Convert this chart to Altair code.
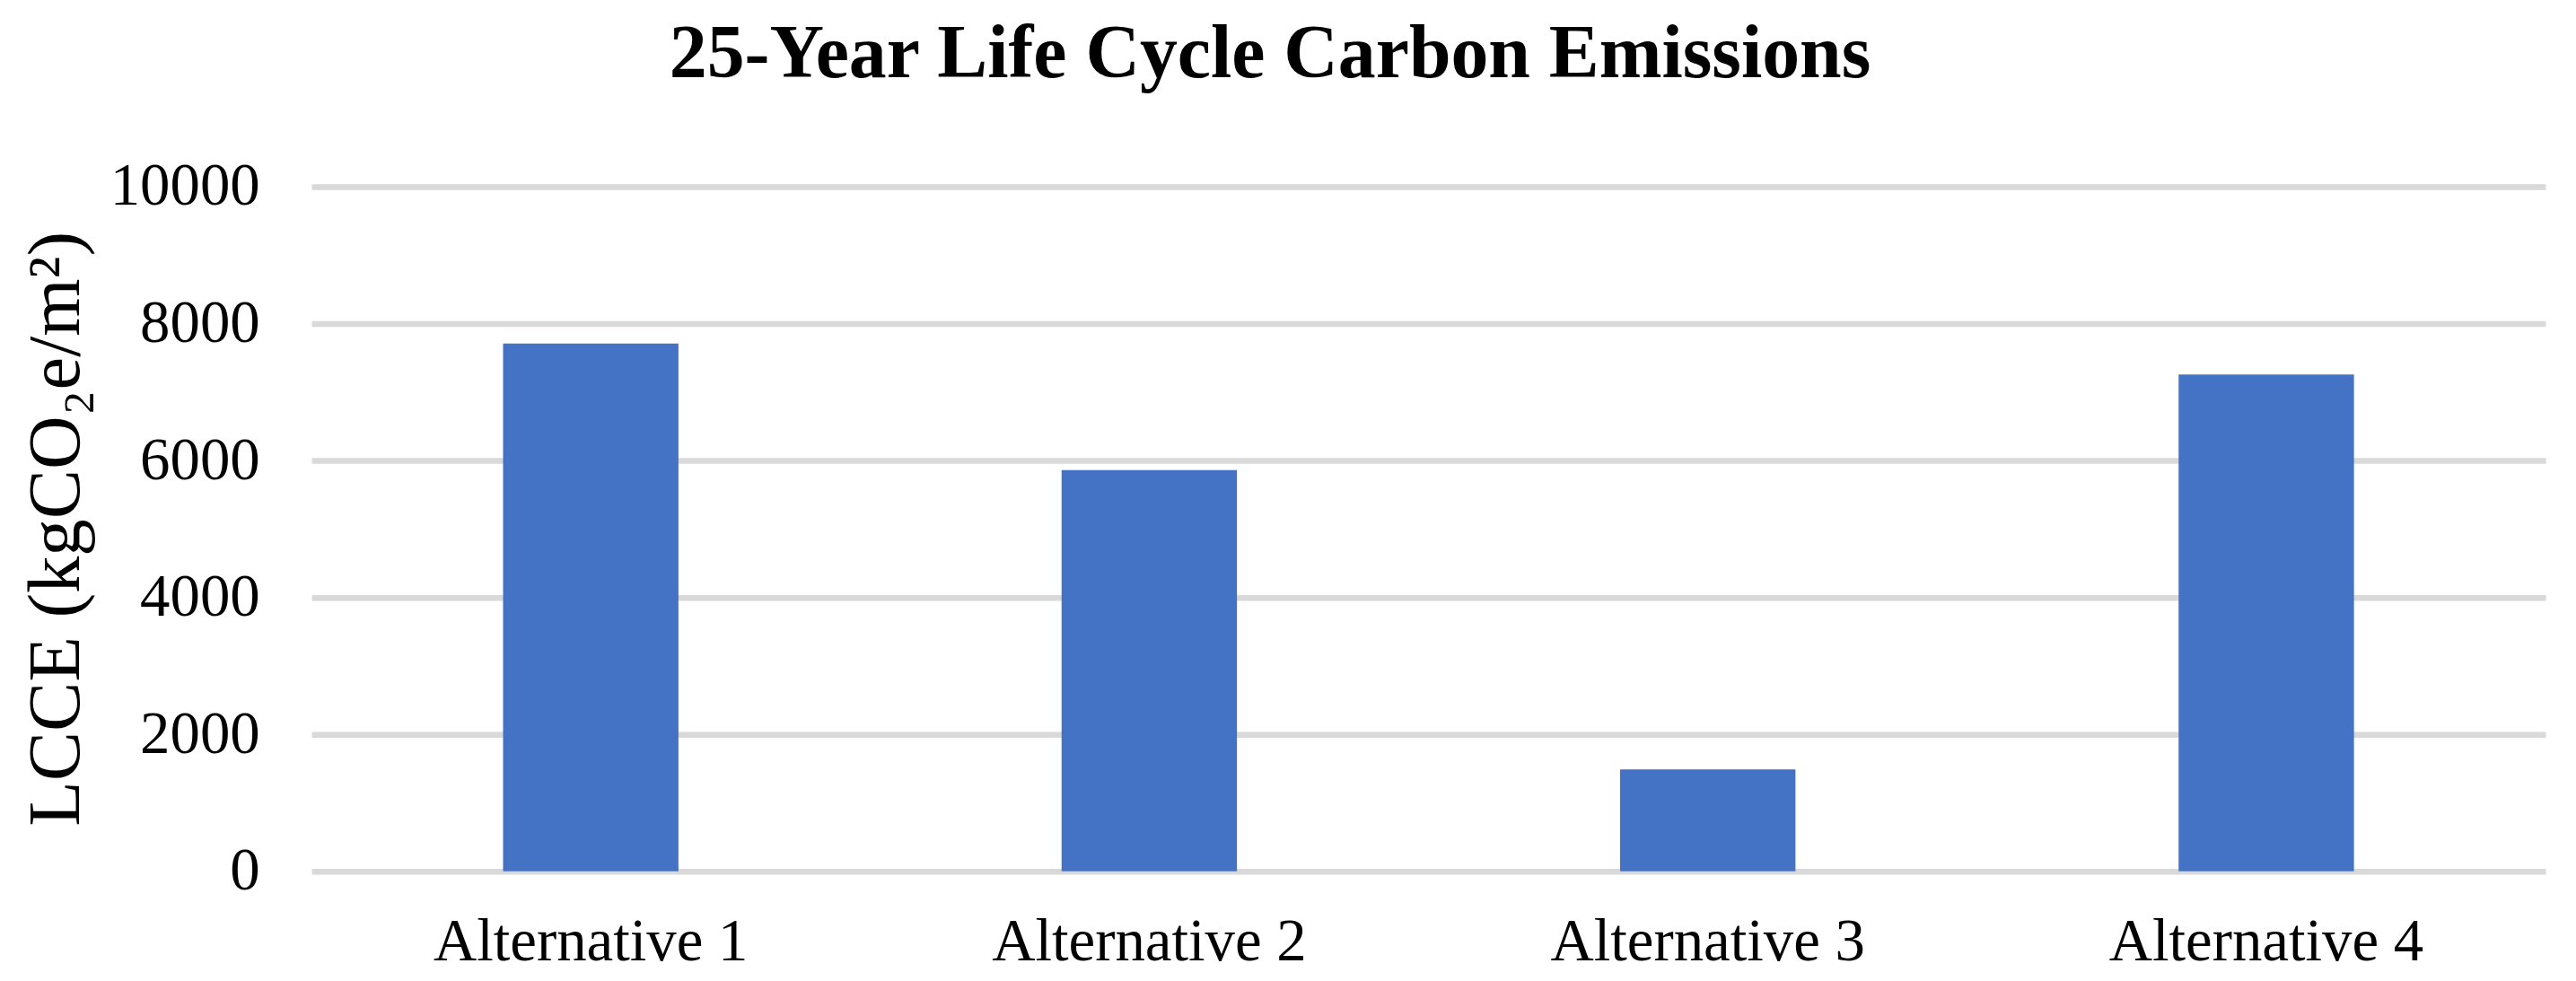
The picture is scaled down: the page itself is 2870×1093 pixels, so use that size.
import altair as alt
import pandas as pd

categories = ["Alternative 1", "Alternative 2", "Alternative 3", "Alternative 4"]
values = [7710, 5860, 1490, 7255]
y_ticks = [0, 2000, 4000, 6000, 8000, 10000]

df = pd.DataFrame({"cat": categories, "val": values})

FONT = "Liberation Serif"

chart = alt.Chart(df).mark_bar(color="#4472C4").encode(
    x=alt.X("cat:N", sort=categories,
            scale=alt.Scale(paddingInner=0.686, paddingOuter=0.343),
            axis=alt.Axis(title=None, labelAngle=0, labelFont=FONT, labelFontSize=67,
                          labelColor="#000000", labelPadding=46, labelLimit=0,
                          ticks=False, tickSize=0, domain=False, grid=False)),
    y=alt.Y("val:Q", scale=alt.Scale(domain=[0, 10000], nice=False),
            axis=alt.Axis(title="LCCE (kgCO₂e/m²)", values=y_ticks, format="d",
                          labelFont=FONT, labelFontSize=67, labelColor="#000000",
                          labelPadding=58, ticks=False, tickSize=0, domain=False,
                          grid=True, gridColor="#D9D9D9", gridWidth=6.5,
                          titleFont=FONT, titleFontSize=83, titleFontWeight="normal",
                          titleColor="#000000", titleAngle=-90, titleX=-285, titleY=382,
                          titleAlign="center", titleBaseline="middle")),
).properties(
    width=2496,
    height=765,
    title=alt.TitleParams("25-Year Life Cycle Carbon Emissions", font=FONT, fontSize=84,
                          fontWeight="bold", color="#000000", anchor="middle",
                          frame="group", dx=-177, offset=4, baseline="alphabetic"),
    autosize=alt.AutoSizeParams(type="none"),
    padding={"left": 340, "top": 199, "right": 26, "bottom": 121},
).configure_view(stroke=None)

chart.save("out.html", embed_options={"renderer": "svg", "actions": False})
